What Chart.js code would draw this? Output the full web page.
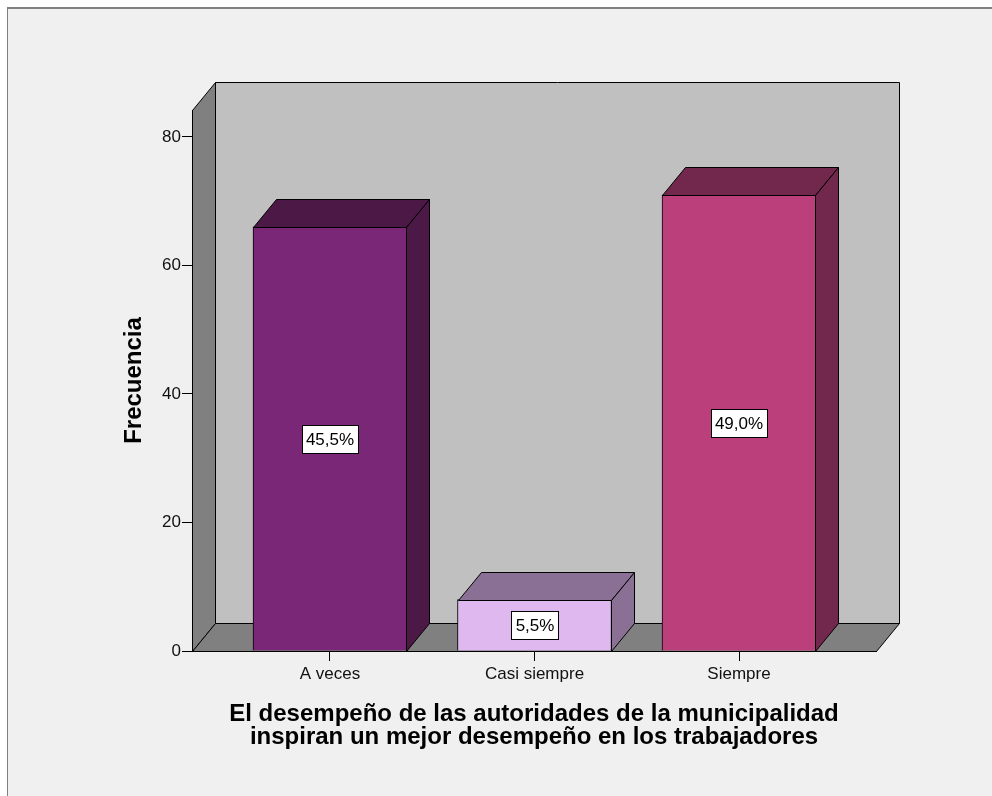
<!DOCTYPE html>
<html>
<head>
<meta charset="utf-8">
<title>Frecuencia</title>
<script src="https://cdn.jsdelivr.net/npm/chart.js@4"></script>
<style>
  html, body { margin: 0; padding: 0; background: #fff; }
</style>
</head>
<body>
<canvas id="grafico" width="992" height="796"></canvas>
<script>
// Datos
const categorias = ["A veces", "Casi siempre", "Siempre"];
const frecuencias = [66, 8, 71];
const ticksY = [0, 20, 40, 60, 80];

// Colores: cara frontal y caras en sombra
const colorFrente = ["#7b2778", "#dfb8f0", "#bb3f7b"];
const colorSombra = ["#4c1846", "#8a7094", "#72274c"];

const total = frecuencias.reduce((s, v) => s + v, 0);
const porcentajes = frecuencias.map(v => (v / total * 100).toFixed(1).replace(".", ",") + "%");

// profundidad del efecto 3D
const PX = 23, PY = 28;

function poligono(ctx, pts, relleno) {
  ctx.beginPath();
  ctx.moveTo(pts[0][0], pts[0][1]);
  for (let i = 1; i < pts.length; i++) ctx.lineTo(pts[i][0], pts[i][1]);
  ctx.closePath();
  ctx.fillStyle = relleno;
  ctx.fill();
  ctx.stroke();
}

const escenario = {
  id: "escenario",
  beforeDraw(chart) {
    const { ctx, chartArea: a, width, height } = chart;
    ctx.save();
    ctx.fillStyle = "#ffffff";
    ctx.fillRect(0, 0, width, height);
    ctx.fillStyle = "#f0f0f0";
    ctx.fillRect(7, 7, width, height);
    ctx.fillStyle = "#808080";
    ctx.fillRect(7, 7, width, 2);
    ctx.fillRect(7, 7, 1, height);

    const l = Math.round(a.left) + 0.5, r = Math.round(a.right) + 0.5;
    const t = Math.round(a.top) + 0.5, b = Math.round(a.bottom) + 0.5;
    ctx.lineWidth = 1;
    ctx.strokeStyle = "#000";
    // pared del fondo
    poligono(ctx, [[l + PX, t - PY], [r + PX, t - PY], [r + PX, b - PY], [l + PX, b - PY]], "#c0c0c0");
    // pared lateral
    poligono(ctx, [[l, t], [l + PX, t - PY], [l + PX, b - PY], [l, b]], "#808080");
    // piso
    poligono(ctx, [[l, b], [l + PX, b - PY], [r + PX, b - PY], [r, b]], "#808080");
    ctx.restore();
  },
  afterDatasetsDraw(chart) {
    const ctx = chart.ctx;
    const meta = chart.getDatasetMeta(0);
    ctx.save();
    ctx.lineWidth = 1;
    ctx.strokeStyle = "#000";
    meta.data.forEach((bar, i) => {
      const izq = Math.round(bar.x - bar.width / 2) + 0.5;
      const der = Math.round(bar.x + bar.width / 2) - 0.5;
      const arriba = Math.round(bar.y) + 0.5;
      const base = Math.round(bar.base) + 0.5;
      // cara superior
      poligono(ctx, [[izq, arriba], [izq + PX, arriba - PY], [der + PX, arriba - PY], [der, arriba]], colorSombra[i]);
      // cara lateral
      poligono(ctx, [[der, arriba], [der + PX, arriba - PY], [der + PX, base - PY], [der, base]], colorSombra[i]);
    });

    // etiquetas de porcentaje
    ctx.font = "17px 'Liberation Sans', Arial, sans-serif";
    ctx.textAlign = "center";
    ctx.textBaseline = "middle";
    meta.data.forEach((bar, i) => {
      const txt = porcentajes[i];
      const w = Math.round(ctx.measureText(txt).width) + 8;
      const h = 28;
      const cx = Math.round(bar.x);
      const cy = Math.round((bar.y + bar.base) / 2);
      const x0 = cx - Math.round(w / 2) + 0.5, y0 = cy - h / 2 + 0.5;
      ctx.fillStyle = "#ffffff";
      ctx.fillRect(x0, y0, w, h);
      ctx.strokeRect(x0, y0, w, h);
      ctx.fillStyle = "#000";
      ctx.fillText(txt, cx, cy + 1);
    });
    ctx.restore();
  }
};

Chart.defaults.font.family = "'Liberation Sans', Arial, sans-serif";
Chart.defaults.color = "#000";

new Chart(document.getElementById("grafico"), {
  type: "bar",
  data: {
    datasets: [{
      data: frecuencias.map((v, i) => ({ x: i, y: v })),
      backgroundColor: colorFrente,
      borderColor: "#000",
      borderWidth: 1,
      barThickness: 154
    }]
  },
  options: {
    responsive: false,
    animation: false,
    layout: { padding: { top: 110, right: 116, bottom: 0, left: 0 } },
    plugins: { legend: { display: false }, tooltip: { enabled: false } },
    scales: {
      x: {
        type: "linear",
        offset: false,
        min: -0.6748,
        max: 2.6699,
        afterFit: s => { s.height = 145; },
        afterBuildTicks: s => { s.ticks = categorias.map((c, i) => ({ value: i })); },
        ticks: {
          autoSkip: false,
          maxRotation: 0,
          padding: 3,
          color: "#111",
          font: { size: 17 },
          callback: v => categorias[v]
        },
        grid: { offset: false, drawOnChartArea: false, drawTicks: true, tickLength: 10, color: "#000" },
        border: { display: true, color: "#000" },
        title: {
          display: true,
          text: ["El desempeño de las autoridades de la municipalidad",
                 "inspiran un mejor desempeño en los trabajadores"],
          color: "#000",
          font: { size: 24, weight: "bold", lineHeight: 0.96 },
          padding: { top: 0, bottom: 47.5 }
        }
      },
      y: {
        min: 0,
        max: 84.2,
        afterFit: s => { s.width = 192; },
        afterBuildTicks: s => { s.ticks = ticksY.map(v => ({ value: v })); },
        ticks: { padding: 1, color: "#111", font: { size: 17 } },
        grid: { drawOnChartArea: false, drawTicks: true, tickLength: 10, color: "#000" },
        border: { display: true, color: "#000" },
        title: {
          display: true,
          text: "Frecuencia",
          color: "#000",
          font: { size: 24, weight: "bold", lineHeight: 1.2 },
          padding: { top: 120, bottom: 0 }
        }
      }
    }
  },
  plugins: [escenario]
});
</script>
</body>
</html>
